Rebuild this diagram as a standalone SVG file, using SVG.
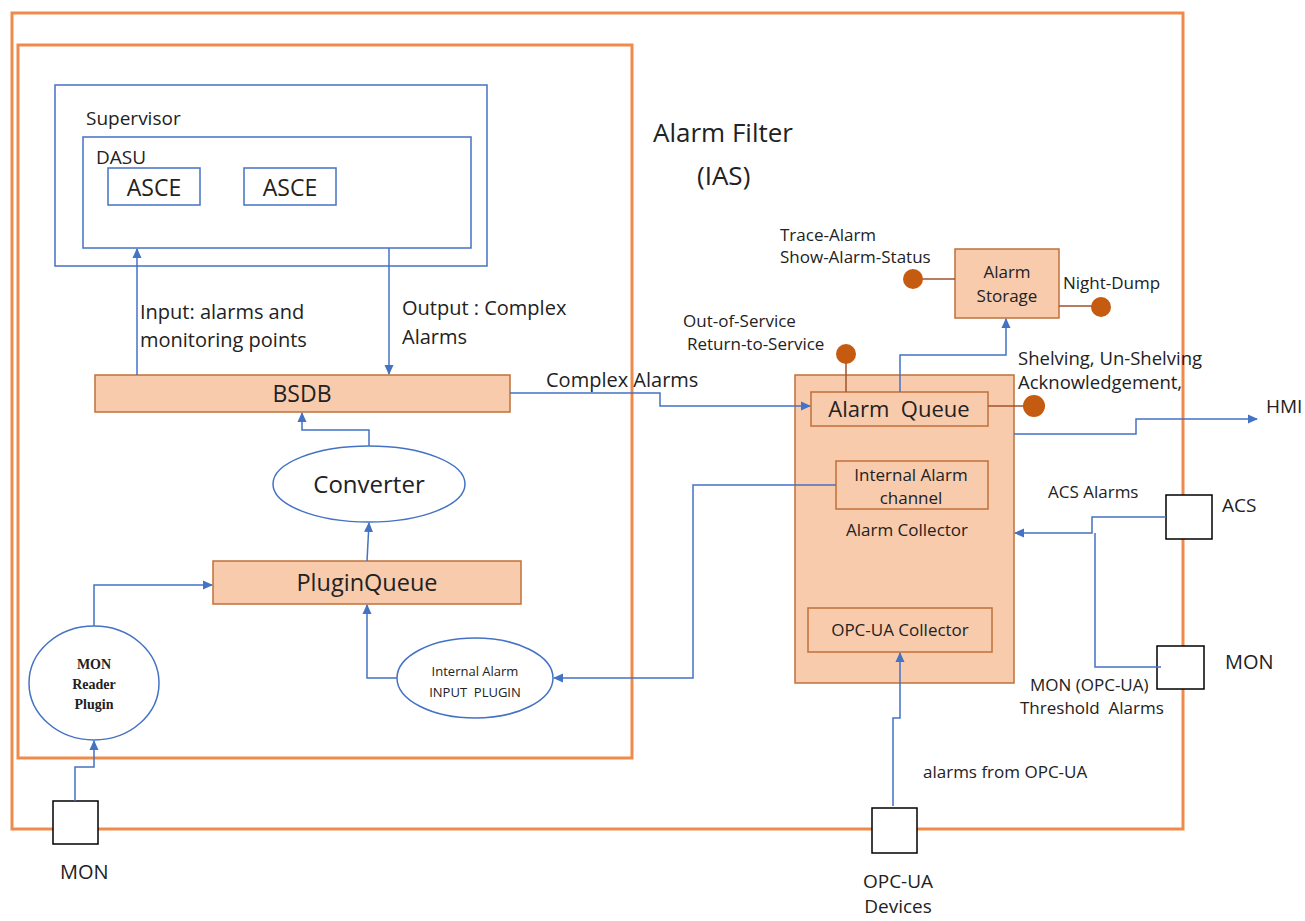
<svg xmlns="http://www.w3.org/2000/svg" width="1305" height="921" viewBox="0 0 1305 921">
<defs>
<marker id="ah" markerWidth="10" markerHeight="10" refX="9" refY="5" orient="auto" markerUnits="userSpaceOnUse">
<path d="M0,0.5 L10,5 L0,9.5 z" fill="#4472C4"/>
</marker>
<style>
.frame{fill:none;stroke:#F08A4B;stroke-width:3}
.blue{fill:#fff;stroke:#4472C4;stroke-width:1.5}
.peach{fill:#F8CBAD;stroke:#C0703A;stroke-width:1.5}
.port{fill:#fff;stroke:#000;stroke-width:1.5}
.conn{fill:none;stroke:#4472C4;stroke-width:1.5}
.stub{fill:none;stroke:#A0522D;stroke-width:1.5}
.dot{fill:#C55A11}
text{font-family:"Open Sans","Liberation Sans",Arial,sans-serif;fill:#222}
.serif{font-family:"Liberation Serif","Times New Roman",serif;font-weight:bold}
.mid{text-anchor:middle}
.s17{font-size:17px}
.s20{font-size:20px}
</style>
</defs>

<g id="frames">
<rect class="frame" x="12" y="13" width="1171" height="816"/>
<rect class="frame" x="18" y="45" width="614" height="713"/>
</g>

<g id="title">
<text x="653" y="142" style="font-size:26px">Alarm Filter</text>
<text x="697" y="185" style="font-size:26px">(IAS)</text>
</g>

<g id="supervisor">
<rect class="blue" x="55" y="85" width="432" height="181"/>
<text style="font-size:19px" x="86" y="125">Supervisor</text>
</g>
<g id="dasu">
<rect class="blue" x="83" y="137" width="388" height="111"/>
<text style="font-size:19px" x="96" y="164">DASU</text>
</g>
<g id="asce1">
<rect class="blue" x="108" y="168" width="92" height="37"/>
<text class="mid" style="font-size:23px" x="154" y="196">ASCE</text>
</g>
<g id="asce2">
<rect class="blue" x="244" y="168" width="92" height="37"/>
<text class="mid" style="font-size:23px" x="290" y="196">ASCE</text>
</g>

<g id="bsdb">
<rect class="peach" x="95" y="375" width="415" height="37"/>
<text class="mid" style="font-size:23px" x="302" y="402">BSDB</text>
</g>
<g id="converter">
<ellipse class="blue" cx="369" cy="484" rx="96" ry="38"/>
<text class="mid" style="font-size:24px" x="369" y="493">Converter</text>
</g>
<g id="pluginqueue">
<rect class="peach" x="213" y="561" width="308" height="43"/>
<text class="mid" style="font-size:23.5px" x="367" y="591">PluginQueue</text>
</g>
<g id="monreader">
<ellipse class="blue" cx="94" cy="683" rx="65" ry="57"/>
<text class="serif mid" style="font-size:14px" x="94" y="669">MON</text>
<text class="serif mid" style="font-size:14px" x="94" y="689">Reader</text>
<text class="serif mid" style="font-size:14px" x="94" y="709">Plugin</text>
</g>
<g id="internalplugin">
<ellipse class="blue" cx="475" cy="678" rx="78" ry="40"/>
<text class="mid" style="font-size:13px" x="475" y="676">Internal Alarm</text>
<text class="mid" style="font-size:13px" x="475" y="697" xml:space="preserve">INPUT  PLUGIN</text>
</g>
<g id="mon-left">
<rect class="port" x="53" y="801" width="45" height="43"/>
<text style="font-size:20px" x="60" y="879">MON</text>
</g>

<g id="alarmcollector">
<rect class="peach" x="795" y="375" width="219" height="308"/>
<text class="mid s17" x="907" y="536">Alarm Collector</text>
</g>
<g id="alarmqueue">
<rect class="peach" x="811" y="392" width="177" height="34"/>
<text class="mid" style="font-size:22px" x="899" y="417" xml:space="preserve">Alarm  Queue</text>
</g>
<g id="internalchannel">
<rect class="peach" x="836" y="461" width="152" height="48"/>
<text class="mid s17" x="911" y="481">Internal Alarm</text>
<text class="mid s17" x="911" y="504">channel</text>
</g>
<g id="opcuacollector">
<rect class="peach" x="808" y="608" width="184" height="44"/>
<text class="mid s17" x="900" y="636">OPC-UA Collector</text>
</g>
<g id="alarmstorage">
<rect class="peach" x="955" y="249" width="104" height="69"/>
<text class="mid s17" x="1007" y="278">Alarm</text>
<text class="mid s17" x="1007" y="302">Storage</text>
</g>

<g id="commands">
<line class="stub" x1="913" y1="279" x2="955" y2="279"/>
<circle class="dot" cx="913" cy="279" r="10"/>
<line class="stub" x1="1059" y1="306" x2="1092" y2="306"/>
<circle class="dot" cx="1101" cy="307" r="10"/>
<line class="stub" x1="846" y1="360" x2="846" y2="392"/>
<circle class="dot" cx="846" cy="354" r="10"/>
<line class="stub" x1="988" y1="406" x2="1025" y2="406"/>
<circle class="dot" cx="1034" cy="406" r="11"/>
<text class="s17" x="780" y="241">Trace-Alarm</text>
<text class="s17" x="780" y="263">Show-Alarm-Status</text>
<text class="s17" x="1063" y="289">Night-Dump</text>
<text class="s17" x="683" y="327">Out-of-Service</text>
<text class="s17" x="687" y="350">Return-to-Service</text>
<text style="font-size:18.5px" x="1018" y="365">Shelving, Un-Shelving</text>
<text style="font-size:18.5px" x="1018" y="389">Acknowledgement,</text>
</g>

<g id="acs">
<rect class="port" x="1166" y="495" width="46" height="44"/>
<text style="font-size:19px" x="1222" y="512">ACS</text>
</g>
<g id="mon-right">
<rect class="port" x="1157" y="646" width="47" height="43"/>
<text style="font-size:20px" x="1225" y="669">MON</text>
</g>
<g id="opcua-devices">
<rect class="port" x="872" y="808" width="45" height="45"/>
<text class="mid" style="font-size:19px" x="898" y="888">OPC-UA</text>
<text class="mid" style="font-size:19px" x="898" y="913">Devices</text>
</g>
<g id="hmi">
<text style="font-size:19px" x="1266" y="413">HMI</text>
</g>

<g id="connectors">
<path class="conn" d="M137,375 V249" marker-end="url(#ah)"/>
<path class="conn" d="M389,248 V374" marker-end="url(#ah)"/>
<path class="conn" d="M369,446 V430 H302 V413" marker-end="url(#ah)"/>
<path class="conn" d="M367,561 L369,523" marker-end="url(#ah)"/>
<path class="conn" d="M94,626 V585 H212" marker-end="url(#ah)"/>
<path class="conn" d="M397,678 H367 V605" marker-end="url(#ah)"/>
<path class="conn" d="M836,485 H693 V678 H554" marker-end="url(#ah)"/>
<path class="conn" d="M75,801 V767 H94 V741" marker-end="url(#ah)"/>
<path class="conn" d="M510,393 H660 V406 H810" marker-end="url(#ah)"/>
<path class="conn" d="M900,392 V355 H1006 V319" marker-end="url(#ah)"/>
<path class="conn" d="M1014,434 H1136 V419 H1257" marker-end="url(#ah)"/>
<path class="conn" d="M1166,517 H1092 V533 H1015" marker-end="url(#ah)"/>
<path class="conn" d="M1161,667 H1095 V533"/>
<path class="conn" d="M893,806 V718 H900 V653" marker-end="url(#ah)"/>
<text class="s20" x="140" y="319">Input: alarms and</text>
<text class="s20" x="140" y="347">monitoring points</text>
<text class="s20" x="402" y="315">Output : Complex</text>
<text class="s20" x="402" y="344">Alarms</text>
<text class="s20" x="546" y="387">Complex Alarms</text>
<text class="s17" x="1048" y="498">ACS Alarms</text>
<text class="s17" x="1030" y="691">MON (OPC-UA)</text>
<text class="s17" x="1020" y="714" xml:space="preserve">Threshold  Alarms</text>
<text class="s17" x="923" y="778">alarms from OPC-UA</text>
</g>
</svg>
